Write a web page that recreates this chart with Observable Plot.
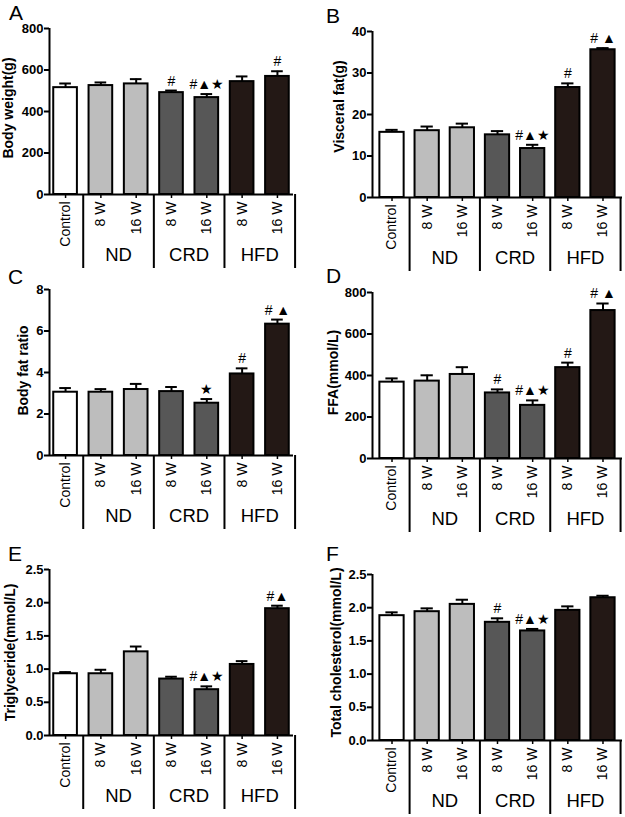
<!DOCTYPE html>
<html>
<head>
<meta charset="utf-8">
<script src="https://cdn.jsdelivr.net/npm/d3@7"></script>
<script src="https://cdn.jsdelivr.net/npm/@observablehq/plot@0.6"></script>
<style>
html, body { margin: 0; padding: 0; background: #fff; }
#root { position: relative; width: 625px; height: 817px; overflow: hidden; font-family: "Liberation Sans", Arial, sans-serif; }
#root svg.plot { position: absolute; overflow: visible; }
#letters { position: absolute; left: 0; top: 0; }
</style>
</head>
<body>
<div id="root"><svg id="letters" width="625" height="817"></svg></div>
<script>
// ---- data ----
const categories = ["Control", "ND 8 W", "ND 16 W", "CRD 8 W", "CRD 16 W", "HFD 8 W", "HFD 16 W"];
const tickLabels = ["Control", "8 W", "16 W", "8 W", "16 W", "8 W", "16 W"];
const diets = ["Control", "ND", "ND", "CRD", "CRD", "HFD", "HFD"];
const dietNames = ["Control", "ND", "CRD", "HFD"];
const dietColors = ["#ffffff", "#bdbdbd", "#575757", "#231815"];
const groupNames = ["ND", "CRD", "HFD"];
const groupFirst = ["ND 8 W", "CRD 8 W", "HFD 8 W"];
const separatorsBefore = ["ND 8 W", "CRD 8 W", "HFD 8 W"];
const separatorsAfter = ["HFD 16 W"];

const bodyWeight = [515, 525, 533, 491, 467, 544, 569];
const bodyWeightErr = [20, 15, 23, 10, 17, 25, 25];
const bodyWeightSig = ["", "", "", "#", "#▲★", "", "#"];

const visceralFat = [15.7, 16.1, 16.8, 15.1, 11.8, 26.5, 35.6];
const visceralFatErr = [0.6, 1.0, 1.0, 0.9, 0.9, 1.0, 0.4];
const visceralFatSig = ["", "", "", "", "#▲★", "#", "# ▲"];

const bodyFatRatio = [3.05, 3.05, 3.18, 3.08, 2.52, 3.93, 6.33];
const bodyFatRatioErr = [0.2, 0.15, 0.27, 0.22, 0.2, 0.27, 0.22];
const bodyFatRatioSig = ["", "", "", "", "★", "#", "# ▲"];

const ffa = [368, 373, 405, 316, 256, 438, 713];
const ffaErr = [18, 28, 35, 17, 24, 24, 34];
const ffaSig = ["", "", "", "#", "#▲★", "#", "# ▲"];

const triglyceride = [0.93, 0.93, 1.26, 0.85, 0.69, 1.07, 1.91];
const triglycerideErr = [0.025, 0.06, 0.08, 0.035, 0.05, 0.05, 0.045];
const triglycerideSig = ["", "", "", "", "#▲★", "", "#▲"];

const cholesterol = [1.88, 1.94, 2.05, 1.78, 1.65, 1.96, 2.15];
const cholesterolErr = [0.05, 0.05, 0.07, 0.06, 0.03, 0.06, 0.03];
const cholesterolSig = ["", "", "", "#", "#▲★", "", ""];

const ticks800 = [0, 200, 400, 600, 800];
const ticks40 = [0, 10, 20, 30, 40];
const ticks8 = [0, 2, 4, 6, 8];
const ticks25 = [0, 0.5, 1.0, 1.5, 2.0, 2.5];

// ---- layout ----
const FONT = "'Liberation Sans', Arial, sans-serif";
const fmtInt = d3.format("d");
const fmt1 = d3.format(".1f");
const panels = [
  {letter: "A", lx: 9, ly: 20, label: "Body weight(g)", values: bodyWeight, errors: bodyWeightErr, sig: bodyWeightSig,
   domain: [0, 800], ticks: ticks800, fmt: fmtInt, left: 0, top: 0, width: 312, mL: 49, mR: 19, pi: 0.33, po: 0.12, labelDx: -36.5, labelDy: -3.5},
  {letter: "B", lx: 326, ly: 23, label: "Visceral fat(g)", values: visceralFat, errors: visceralFatErr, sig: visceralFatSig,
   domain: [0, 40], ticks: ticks40, fmt: fmtInt, left: 312, top: 3, width: 313, mL: 60, mR: 3, pi: 0.31, po: 0.21, labelDx: -29, labelDy: -8},
  {letter: "C", lx: 8, ly: 284, label: "Body fat ratio", values: bodyFatRatio, errors: bodyFatRatioErr, sig: bodyFatRatioSig,
   domain: [0, 8], ticks: ticks8, fmt: fmtInt, left: 0, top: 261, width: 312, mL: 49, mR: 19, pi: 0.33, po: 0.12, labelDx: -21.5, labelDy: -2},
  {letter: "D", lx: 326, ly: 283, label: "FFA(mmol/L)", values: ffa, errors: ffaErr, sig: ffaSig,
   domain: [0, 800], ticks: ticks800, fmt: fmtInt, left: 312, top: 264, width: 313, mL: 60, mR: 3, pi: 0.31, po: 0.21, labelDx: -35, labelDy: -3},
  {letter: "E", lx: 8, ly: 561, label: "Triglyceride(mmol/L)", values: triglyceride, errors: triglycerideErr, sig: triglycerideSig,
   domain: [0, 2.5], ticks: ticks25, fmt: fmt1, left: 0, top: 541, width: 312, mL: 49, mR: 19, pi: 0.33, po: 0.12, labelDx: -35, labelDy: 0},
  {letter: "F", lx: 326, ly: 561, label: "Total cholesterol(mmol/L)", values: cholesterol, errors: cholesterolErr, sig: cholesterolSig,
   domain: [0, 2.5], ticks: ticks25, fmt: fmt1, left: 312, top: 546, width: 313, mL: 60, mR: 3, pi: 0.31, po: 0.21, labelDx: -32, labelDy: -5}
];

const root = document.getElementById("root");
const letters = d3.select("#letters");

for (const p of panels) {
  const data = categories.map((c, i) => ({id: c, diet: diets[i], v: p.values[i], e: p.errors[i], s: p.sig[i]}));
  const n = categories.length;
  const step = (p.width - p.mL - p.mR) / (n - p.pi + 2 * p.po);
  const firstCenterOffset = step * (p.po + (1 - p.pi) / 2);
  const chart = Plot.plot({
    width: p.width,
    height: 270,
    marginTop: 28,
    marginBottom: 76,
    marginLeft: p.mL,
    marginRight: p.mR,
    x: {domain: categories, paddingInner: p.pi, paddingOuter: p.po, round: false, axis: null},
    y: {domain: p.domain, axis: null},
    color: {domain: dietNames, range: dietColors},
    style: {fontFamily: FONT, color: "#000", background: "transparent", overflow: "visible"},
    marks: [
      Plot.barY(data, {x: "id", y: "v", fill: "diet", stroke: "#000", strokeWidth: 2}),
      Plot.ruleX(data, {x: "id", y1: "v", y2: (d) => d.v + d.e, stroke: "#000", strokeWidth: 2}),
      Plot.tickY(data, {x: "id", y: (d) => d.v + d.e, insetLeft: 6, insetRight: 6, stroke: "#000", strokeWidth: 2}),
      Plot.text(data, {x: "id", y: (d) => d.v + d.e, text: "s", dy: -5, lineAnchor: "bottom", fontSize: 14, fill: "#000"}),
      Plot.axisY({ticks: p.ticks, tickFormat: p.fmt, tickSize: 5, tickPadding: 1, fontSize: 13, fontWeight: "bold", label: null, strokeWidth: 2}),
      Plot.axisX({tickRotate: -90, tickFormat: (d) => tickLabels[categories.indexOf(d)], tickSize: 4, tickPadding: 3, fontSize: 14, label: null, strokeWidth: 1.5}),
      Plot.ruleX([categories[0]], {x: (d) => d, y1: p.domain[0], y2: p.domain[1], dx: -firstCenterOffset, strokeWidth: 2}),
      Plot.ruleY([0], {strokeWidth: 2}),
      Plot.ruleX(separatorsBefore, {x: (d) => d, y1: 0, y2: 0, insetBottom: -74, dx: -step / 2, strokeWidth: 2}),
      Plot.ruleX(separatorsAfter, {x: (d) => d, y1: 0, y2: 0, insetBottom: -74, dx: step / 2, strokeWidth: 2}),
      Plot.text(groupNames, {x: groupFirst, y: 0, text: (d) => d, dx: step / 2, dy: 66, lineAnchor: "bottom", fontSize: 18.5, fill: "#000"}),
      Plot.text([p.label], {frameAnchor: "left", textAnchor: "middle", text: (d) => d, rotate: -90, dx: p.labelDx, dy: p.labelDy, lineAnchor: "bottom", fontSize: 14, fontWeight: "bold", fill: "#000"})
    ]
  });
  chart.classList.add("plot");
  chart.style.left = p.left + "px";
  chart.style.top = p.top + "px";
  // make y-axis tick labels bold
  d3.select(chart).selectAll("g").filter(function () {
    const a = this.getAttribute("aria-label") || "";
    return a.indexOf("y-axis tick label") >= 0;
  }).attr("font-weight", "bold").style("font-weight", "bold")
    .selectAll("text").style("font-weight", "bold");
  root.appendChild(chart);
  letters.append("text").attr("x", p.lx).attr("y", p.ly)
    .attr("font-family", FONT).attr("font-size", 21).attr("fill", "#000").text(p.letter);
}
</script>
</body>
</html>
